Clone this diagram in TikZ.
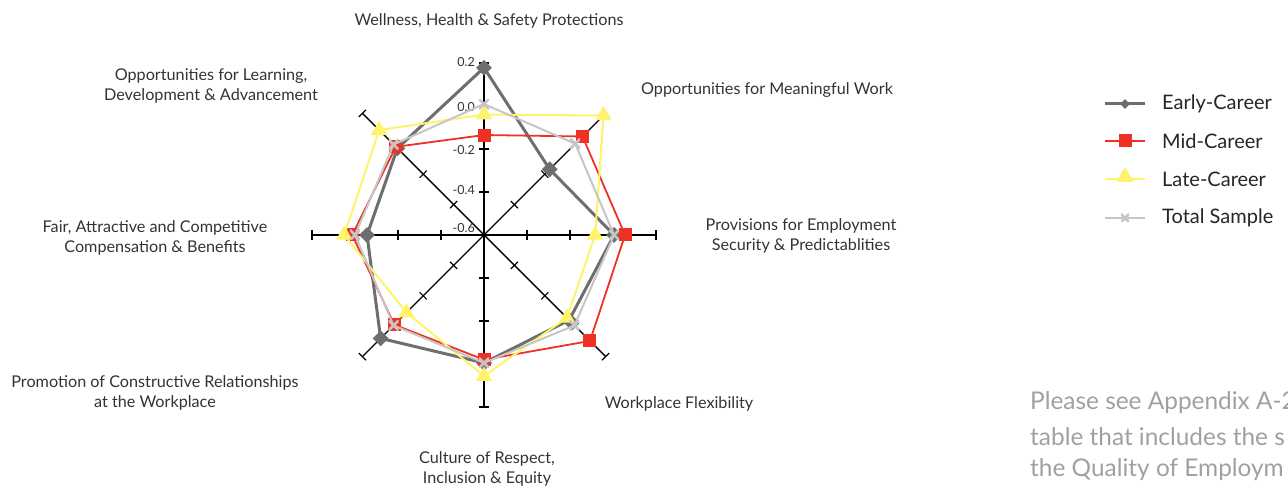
\documentclass[tikz,border=0pt]{standalone}
\usepackage{fontspec}
\setmainfont{Lato}
\usetikzlibrary{shapes.geometric}
\definecolor{earlyc}{HTML}{6E6E70}
\definecolor{midc}{HTML}{EE3124}
\definecolor{latec}{HTML}{FFF36B}
\definecolor{totalc}{HTML}{C6C6C6}
\definecolor{labc}{HTML}{333333}
\definecolor{notec}{HTML}{A0A0A0}
\begin{document}
\begin{tikzpicture}[x=1pt,y=1pt,
  axisline/.style={black,line width=1.4pt},
  lab/.style={text=labc,font=\fontsize{16.2}{20}\selectfont,align=center,inner sep=0pt},
  vlab/.style={text=labc,font=\fontsize{12.5}{13}\selectfont,anchor=east,inner sep=0pt},
  earlyline/.style={earlyc,line width=3pt,line join=round},
  midline/.style={midc,line width=1.8pt,line join=round},
  lateline/.style={latec,line width=2pt,line join=round},
  totalline/.style={totalc,line width=2pt,line join=round},
  earlymark/.style={diamond,fill=earlyc,inner sep=0pt,minimum size=16pt},
  midmark/.style={rectangle,fill=midc,inner sep=0pt,minimum size=13pt},
  latemark/.style={regular polygon,regular polygon sides=3,fill=latec,inner sep=0pt,minimum size=19pt},
  totalmark/.style={inner sep=0pt,minimum size=10pt,path picture={\draw[totalc,line width=2.6pt] (path picture bounding box.south west)--(path picture bounding box.north east) (path picture bounding box.north west)--(path picture bounding box.south east);}},
  legtext/.style={text=black!85,font=\fontsize{20}{22}\selectfont,anchor=west,inner sep=0pt},
  note/.style={text=notec,font=\fontsize{24.4}{34}\selectfont,anchor=west,inner sep=0pt}
]
\useasboundingbox (0,0) rectangle (1288,489);
\clip (0,0) rectangle (1288,489);

% radar
\begin{scope}[shift={(484,254)}]
  \coordinate (C) at (0,0);
  \foreach \a in {0,45,...,315}{
    \begin{scope}[rotate=\a]
      \draw[axisline] (0,0) -- (172,0);
      \foreach \r in {43,86,129,172} \draw[axisline,line width=1.2pt] (\r,-5) -- (\r,5);
    \end{scope}
  }
  \foreach \v [count=\i from 0] in {0.178,-0.168,0.005,-0.04,-0.005,0.08,-0.056,-0.03}
    \coordinate (e\i) at ({90-45*\i}:{(\v+0.6)*215});
  \foreach \v [count=\i from 0] in {-0.135,0.048,0.056,0.097,-0.02,-0.01,0.013,-0.02}
    \coordinate (m\i) at ({90-45*\i}:{(\v+0.6)*215});
  \foreach \v [count=\i from 0] in {-0.04,0.186,-0.083,-0.055,0.056,-0.09,0.05,0.09}
    \coordinate (l\i) at ({90-45*\i}:{(\v+0.6)*215});
  \foreach \v [count=\i from 0] in {0.009,0.0,0.005,-0.005,-0.005,-0.005,0.0,-0.005}
    \coordinate (t\i) at ({90-45*\i}:{(\v+0.6)*215});
\end{scope}

\node[vlab] (v2) at (475,427) {0.2};
\node[vlab] (v0) at (475,382) {0.0};
\node[vlab] (vm2) at (475,339) {-0.2};
\node[vlab] (vm4) at (475,299) {-0.4};
\node[vlab] (vm6) at (475,261) {-0.6};

\draw[earlyline] (e0)--(e1)--(e2)--(e3)--(e4)--(e5)--(e6)--(e7)--cycle;
\foreach \i in {0,...,7} \node[earlymark] (em\i) at (e\i) {};
\draw[midline] (m0)--(m1)--(m2)--(m3)--(m4)--(m5)--(m6)--(m7)--cycle;
\foreach \i in {0,...,7} \node[midmark] (mm\i) at (m\i) {};
\draw[lateline] (l0)--(l1)--(l2)--(l3)--(l4)--(l5)--(l6)--(l7)--cycle;
\foreach \i in {0,...,7} \node[latemark] (lm\i) at (l\i) {};
\draw[totalline] (t0)--(t1)--(t2)--(t3)--(t4)--(t5)--(t6)--(t7)--cycle;
\foreach \i in {0,...,7} \node[totalmark] (tm\i) at (t\i) {};

% axis labels
\node[lab] (a0) at (489,468) {Wellness, Health \& Safety Protections};
\node[lab] (a1) at (767,399) {Opportunities for Meaningful Work};
\node[lab] (a2) at (801,253) {Provisions for Employment\\ Security \& Predictablities};
\node[lab] (a3) at (679,85) {Workplace Flexibility};
\node[lab] (a4) at (487,20) {Culture of Respect,\\ Inclusion \& Equity};
\node[lab] (a5) at (155,96) {Promotion of Constructive Relationships\\ at the Workplace};
\node[lab] (a6) at (155,251) {Fair, Attractive and Competitive\\ Compensation \& Benefits};
\node[lab] (a7) at (211,403) {Opportunities for Learning,\\ Development \& Advancement};

% legend
\coordinate (L1a) at (1105,385); \coordinate (L1b) at (1145,385);
\coordinate (L2a) at (1105,348); \coordinate (L2b) at (1145,348);
\coordinate (L3a) at (1105,310); \coordinate (L3b) at (1145,310);
\coordinate (L4a) at (1105,271); \coordinate (L4b) at (1145,271);
\draw[earlyline] (L1a) -- (L1b);
\node[earlymark,minimum size=10pt] (lg1) at (1125,385) {};
\draw[midline] (L2a) -- (L2b);
\node[midmark,minimum size=13pt] (lg2) at (1125,348) {};
\draw[lateline] (L3a) -- (L3b);
\node[latemark,minimum size=20pt] (lg3) at (1125,312) {};
\draw[totalline] (L4a) -- (L4b);
\node[totalmark,minimum size=8pt] (lg4) at (1125,271) {};
\node[legtext] (lt1) at (1162,385) {Early-Career};
\node[legtext] (lt2) at (1162,348) {Mid-Career};
\node[legtext] (lt3) at (1162,310) {Late-Career};
\node[legtext] (lt4) at (1162,271) {Total Sample};

% note
\node[note] (n1) at (1030,86) {Please see Appendix A-2};
\node[note] (n2) at (1030,52) {table that includes the s};
\node[note] (n3) at (1030,19) {the Quality of Employm};
\end{tikzpicture}
\end{document}
